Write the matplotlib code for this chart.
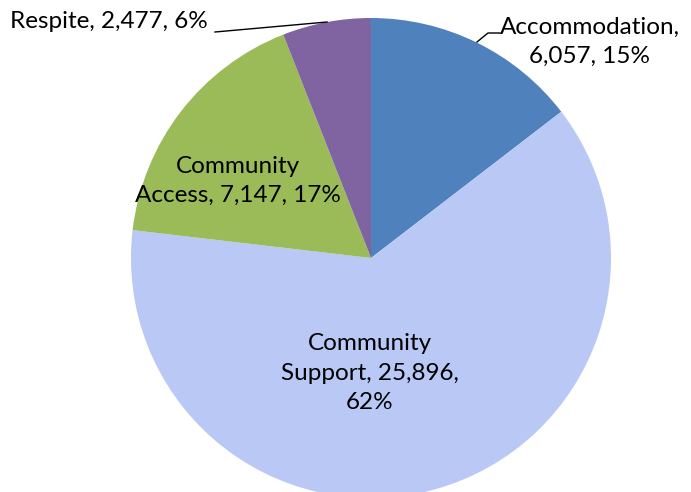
import numpy as np
import matplotlib.pyplot as plt

categories = ['Accommodation', 'Community Support', 'Community Access', 'Respite']
values = [6057, 25896, 7147, 2477]
colors = ['#4f81bd', '#b9c8f5', '#9bbb59', '#8064a2']

total = sum(values)
pcts = [v / total * 100 for v in values]

plt.rcParams['font.family'] = ['Lato', 'DejaVu Sans']

W, H = 691, 492
fig = plt.figure(figsize=(W / 100, H / 100), dpi=100)
ax = fig.add_axes([0, 0, 1, 1])

cx, cy, r = 371, 234, 240
wedges, _ = ax.pie(values, colors=colors, startangle=90, counterclock=False,
                   center=(cx, cy), radius=r, frame=True,
                   wedgeprops=dict(linewidth=0))
ax.set_xlim(0, W)
ax.set_ylim(0, H)
ax.set_aspect('equal')
ax.axis('off')


def lbl(i):
    return f'{values[i]:,}, {pcts[i]:.0f}%'


fs = 17.5
ls = 1.5
ax.text(590, 450, f'{categories[0]},\n{lbl(0)}', ha='center', va='center',
        fontsize=fs, linespacing=ls)
ax.text(370, 119, f'Community\nSupport, {values[1]:,},\n{pcts[1]:.0f}%',
        ha='center', va='center', fontsize=fs, linespacing=ls)
ax.text(238, 311, f'Community\nAccess, {lbl(2)}', ha='center', va='center',
        fontsize=fs, linespacing=ls)
ax.text(10, 470, f'{categories[3]}, {lbl(3)}', ha='left', va='center',
        fontsize=fs)

# leader lines
ax.plot([215, 327], [460, 470], color='black', lw=1)
ax.plot([477, 488, 500], [450, 459, 459], color='black', lw=1)

fig.savefig('out.png', dpi=100)
